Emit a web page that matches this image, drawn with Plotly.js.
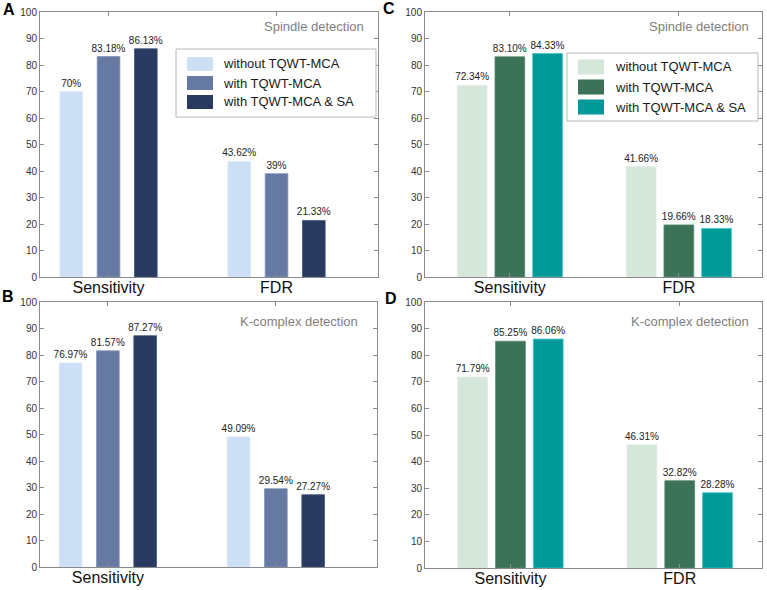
<!DOCTYPE html>
<html>
<head>
<meta charset="utf-8">
<script src="https://cdn.plot.ly/plotly-3.0.1.min.js"></script>
<style>
html,body{margin:0;padding:0;background:#fff;}
#chart{width:767px;height:590px;}
</style>
</head>
<body>
<div id="chart"></div>
<script>
// ---------- data ----------
const categories = ["Sensitivity", "FDR"];
const seriesNames = ["without TQWT-MCA", "with TQWT-MCA", "with TQWT-MCA & SA"];

// Panel A: Spindle detection (blue)
const A_without = [70, 43.62];
const A_with = [83.18, 39];
const A_withSA = [86.13, 21.33];
const A_labels = [["70%", "43.62%"], ["83.18%", "39%"], ["86.13%", "21.33%"]];

// Panel B: K-complex detection (blue)
const B_without = [76.97, 49.09];
const B_with = [81.57, 29.54];
const B_withSA = [87.27, 27.27];
const B_labels = [["76.97%", "49.09%"], ["81.57%", "29.54%"], ["87.27%", "27.27%"]];

// Panel C: Spindle detection (green)
const C_without = [72.34, 41.66];
const C_with = [83.10, 19.66];
const C_withSA = [84.33, 18.33];
const C_labels = [["72.34%", "41.66%"], ["83.10%", "19.66%"], ["84.33%", "18.33%"]];

// Panel D: K-complex detection (green)
const D_without = [71.79, 46.31];
const D_with = [85.25, 32.82];
const D_withSA = [86.06, 28.28];
const D_labels = [["71.79%", "46.31%"], ["85.25%", "32.82%"], ["86.06%", "28.28%"]];

const panelTitles = ["Spindle detection", "K-complex detection", "Spindle detection", "K-complex detection"];
const panelLetters = ["A", "B", "C", "D"];

// ---------- styles ----------
const blueColors = ["#cddff5", "#6679a3", "#283a5f"];
const blueEdges = ["#dde9f8", "#8494b8", "#46577c"];
const greenColors = ["#d5e6da", "#3b7258", "#00999a"];
const greenEdges = ["#e2eee6", "#5a8a73", "#3cc4c4"];

const W = 767, H = 590;
const px = x => x / W;
const py = y => 1 - y / H;
const FONT = "Liberation Sans, Arial, Helvetica, sans-serif";

const panels = [
  {id: "", vals: [A_without, A_with, A_withSA], labels: A_labels, colors: blueColors, edges: blueEdges,
   dom: [40, 378, 12, 277], range: [-0.408, 1.604], slot: 0.222, w: 0.135, showFDR: true},
  {id: "2", vals: [B_without, B_with, B_withSA], labels: B_labels, colors: blueColors, edges: blueEdges,
   dom: [40, 377, 302, 567], range: [-0.404, 1.602], slot: 0.222, w: 0.135, showFDR: false},
  {id: "3", vals: [C_without, C_with, C_withSA], labels: C_labels, colors: greenColors, edges: greenEdges,
   dom: [425, 762, 12, 277], range: [-0.502, 1.492], slot: 0.223, w: 0.176, showFDR: true},
  {id: "4", vals: [D_without, D_with, D_withSA], labels: D_labels, colors: greenColors, edges: greenEdges,
   dom: [425, 762, 302, 568], range: [-0.505, 1.486], slot: 0.223, w: 0.176, showFDR: true}
];

const traces = [];
const layout = {
  width: W, height: H,
  margin: {l: 0, r: 0, t: 0, b: 0},
  paper_bgcolor: "#ffffff", plot_bgcolor: "#ffffff",
  barmode: "overlay",
  showlegend: false,
  font: {family: FONT, color: "#222"},
  shapes: [], annotations: []
};

panels.forEach((p, pi) => {
  const xa = "x" + p.id, ya = "y" + p.id;
  for (let k = 0; k < 3; k++) {
    traces.push({
      type: "bar",
      name: seriesNames[k],
      x: categories,
      y: p.vals[k],
      xaxis: xa, yaxis: ya,
      width: p.w,
      offset: (k - 1) * p.slot - p.w / 2,
      marker: {color: p.colors[k], line: {color: p.edges[k], width: 0.8}},
      text: p.labels[k],
      textposition: "outside",
      constraintext: "none",
      textfont: {family: FONT, size: 10, color: "#222"},
      cliponaxis: false,
      hoverinfo: "skip"
    });
  }
  const [x0, x1, y0, y1] = p.dom;
  layout["xaxis" + p.id] = {
    domain: [px(x0), px(x1)],
    anchor: ya,
    type: "category",
    range: p.range,
    tickvals: categories,
    ticktext: p.showFDR ? categories : [categories[0], ""],
    ticks: "inside", ticklen: 4, tickcolor: "#8a8a8a", tickwidth: 1,
    showline: true, linecolor: "#8a8a8a", linewidth: 1, mirror: "ticks",
    showgrid: false, zeroline: false,
    tickfont: {family: FONT, size: 16, color: "#111"},
    ticklabelstandoff: -4,
    fixedrange: true
  };
  layout["yaxis" + p.id] = {
    domain: [py(y1), py(y0)],
    anchor: xa,
    range: [0, 100],
    dtick: 10,
    ticks: "inside", ticklen: 4, tickcolor: "#8a8a8a", tickwidth: 1,
    showline: true, linecolor: "#8a8a8a", linewidth: 1, mirror: "ticks",
    showgrid: false, zeroline: false,
    tickfont: {family: FONT, size: 10, color: "#333"},
    ticklabelstandoff: 0,
    fixedrange: true
  };
  // panel subtitle
  layout.annotations.push({
    xref: xa + " domain", yref: ya + " domain",
    x: 1, y: 1, xanchor: "right", yanchor: "middle",
    xshift: pi === 1 ? -17 : (pi === 0 ? -12 : -11),
    yshift: pi % 2 === 0 ? -14 : -19,
    text: panelTitles[pi], showarrow: false,
    font: {family: FONT, size: 13, color: "#808080"}
  });
});

// panel letters
const letterPos = [[9, 10], [8, 297], [389, 9], [391, 298]];
panelLetters.forEach((L, i) => {
  layout.annotations.push({
    xref: "paper", yref: "paper", x: px(letterPos[i][0]), y: py(letterPos[i][1]),
    xanchor: "center", yanchor: "middle", text: "<b>" + L + "</b>", showarrow: false,
    font: {family: FONT, size: 16, color: "#000"}
  });
});

// custom legends for panels A and C
const legends = [
  {box: [176, 376, 49, 117], sw: [187, 213], rows: [64, 83, 102], sh: 14, tx: 221, colors: blueColors},
  {box: [567, 758, 53, 121], sw: [578, 604], rows: [67, 87, 107], sh: 15, tx: 613, colors: greenColors}
];
legends.forEach(lg => {
  layout.shapes.push({
    type: "rect", xref: "paper", yref: "paper",
    x0: px(lg.box[0]), x1: px(lg.box[1]), y0: py(lg.box[3]), y1: py(lg.box[2]),
    line: {color: "#b8b8b8", width: 1}, fillcolor: "#ffffff"
  });
  for (let k = 0; k < 3; k++) {
    layout.shapes.push({
      type: "rect", xref: "paper", yref: "paper",
      x0: px(lg.sw[0]), x1: px(lg.sw[1]),
      y0: py(lg.rows[k] + lg.sh / 2), y1: py(lg.rows[k] - lg.sh / 2),
      line: {width: 0}, fillcolor: lg.colors[k]
    });
    layout.annotations.push({
      xref: "paper", yref: "paper", x: px(lg.tx), y: py(lg.rows[k]),
      xanchor: "left", yanchor: "middle", text: seriesNames[k], showarrow: false,
      font: {family: FONT, size: 13, color: "#1a1a1a"}
    });
  }
});

Plotly.newPlot("chart", traces, layout, {displayModeBar: false, staticPlot: true});
</script>
</body>
</html>
